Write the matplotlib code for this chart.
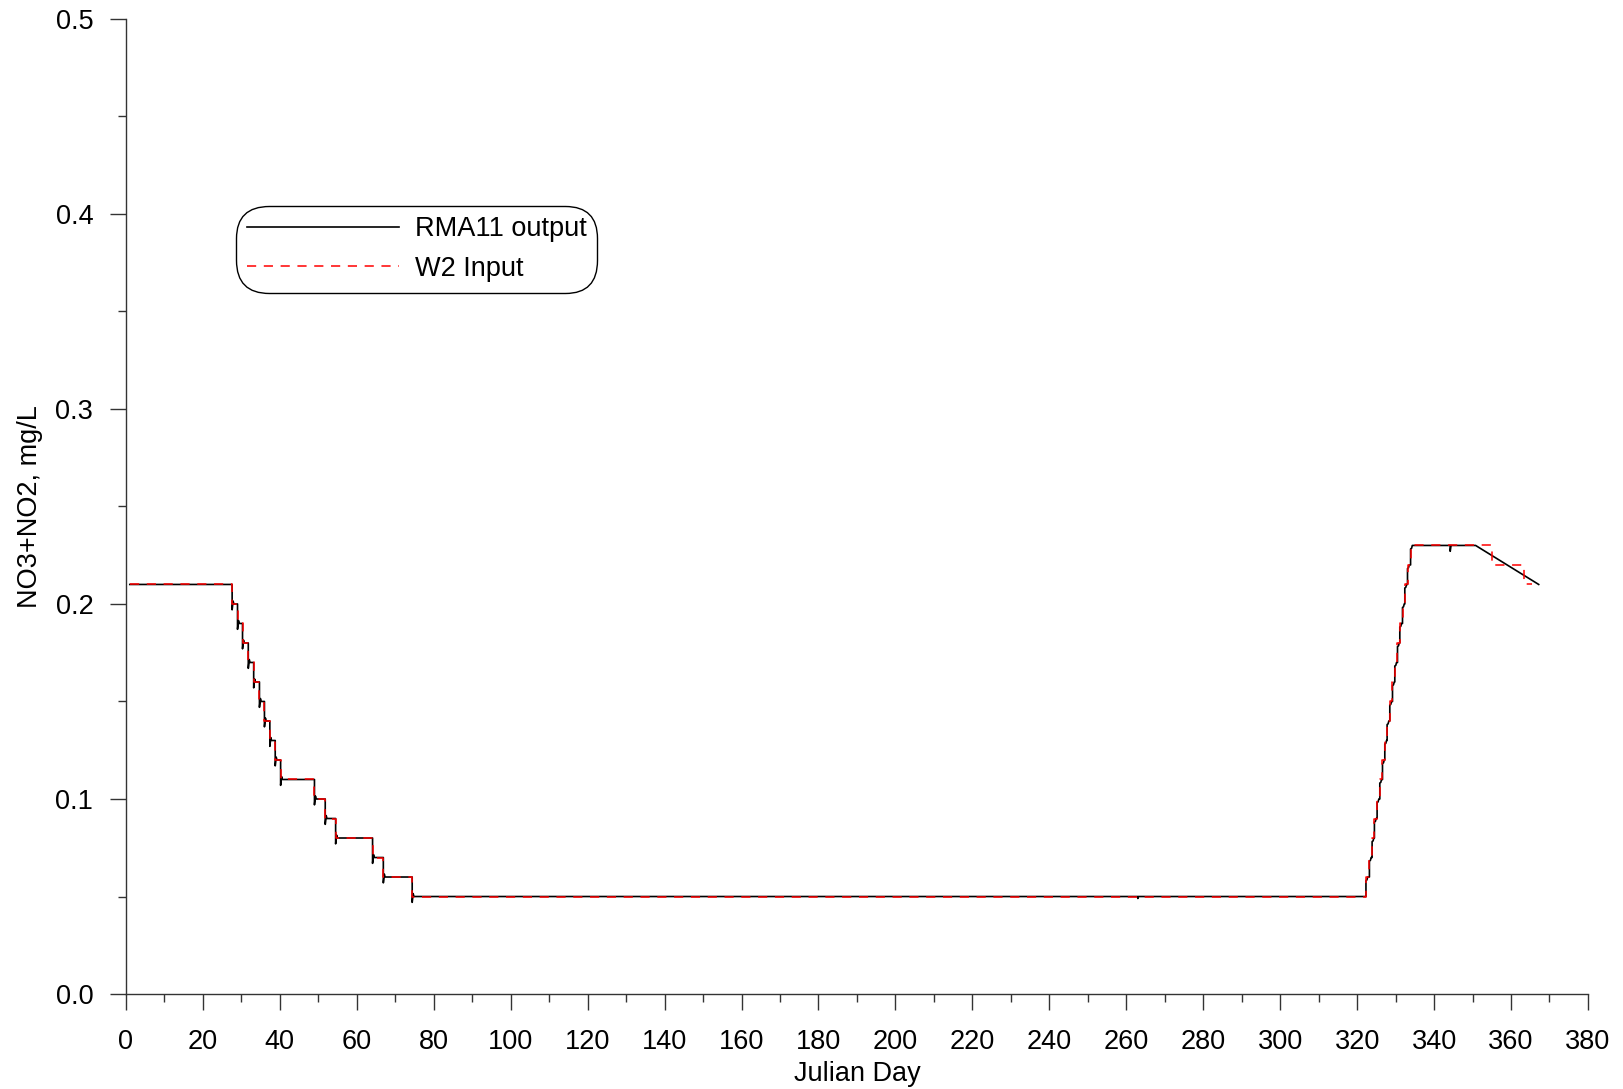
import matplotlib
matplotlib.use('Agg')
import matplotlib.pyplot as plt
import numpy as np

plt.rcParams['font.family'] = ['Liberation Sans', 'DejaVu Sans']

# W2 input: step start days and levels (steps-post)
W2_DAY = [1.0, 27.6, 29.0, 30.3, 31.8, 33.2, 34.7, 36.0, 37.4, 38.8, 40.2,
          49.0, 51.8, 54.5, 64.1, 66.9, 74.4,
          322.3, 323.2, 323.9, 324.5, 325.2, 325.9, 326.6, 327.2, 327.8,
          328.5, 329.2, 329.8, 330.5, 331.1, 331.8, 332.4, 333.1, 333.9,
          355.0, 363.3, 365.5]
W2_VAL = [0.21, 0.20, 0.19, 0.18, 0.17, 0.16, 0.15, 0.14, 0.13, 0.12, 0.11,
          0.10, 0.09, 0.08, 0.07, 0.06, 0.05,
          0.06, 0.07, 0.08, 0.09, 0.10, 0.11, 0.12, 0.13, 0.14,
          0.15, 0.16, 0.17, 0.18, 0.19, 0.20, 0.21, 0.22, 0.23,
          0.22, 0.21, 0.21]

# RMA11 output: follows the W2 steps up to 0.23 (with small overshoot at
# each change), a couple of small blips, then a linear decline
RMA_LAST_STEP = 34
RMA_DIP = 0.003
RMA_BLIP_DAY = [263.0, 344.2]
RMA_BLIP_VAL = [0.049, 0.227]
RMA_TAIL_DAY = [350.8, 367.2]
RMA_TAIL_VAL = [0.23, 0.21]


def rma_series():
    events = [(W2_DAY[i], 'step', W2_VAL[i]) for i in range(1, RMA_LAST_STEP + 1)]
    events += [(d, 'blip', v) for d, v in zip(RMA_BLIP_DAY, RMA_BLIP_VAL)]
    events.sort()
    xs, ys = [W2_DAY[0]], [W2_VAL[0]]
    cur = W2_VAL[0]
    for d, kind, v in events:
        if kind == 'step':
            over = v - RMA_DIP if v < cur else v - RMA_DIP * 0.6
            xs += [d, d, d + 0.25, d + 0.45]
            ys += [cur, over, v + (0.0015 if v < cur else -0.0015), v]
            cur = v
        else:
            xs += [d, d, d + 0.2]
            ys += [cur, v, cur]
    xs += RMA_TAIL_DAY
    ys += RMA_TAIL_VAL
    return xs, ys


FS = 19.5

fig = plt.figure(figsize=(16.23, 10.89), dpi=100)
ax = fig.add_axes([0.0776, 0.0872, 0.9008, 0.8955])

rx, ry = rma_series()
ax.plot(rx, ry, color='black', lw=1.2, label='RMA11 output', zorder=2)
ax.plot(W2_DAY, W2_VAL, color='red', lw=1.1, ls=(0, (6, 5)),
        drawstyle='steps-post', label='W2 Input', zorder=3)

ax.set_xlim(0, 380)
ax.set_ylim(0, 0.5)
ax.set_xticks(np.arange(0, 381, 20))
ax.set_xticks(np.arange(0, 381, 10), minor=True)
ax.set_yticks([0.0, 0.1, 0.2, 0.3, 0.4, 0.5])
ax.set_yticks([0.05, 0.15, 0.25, 0.35, 0.45], minor=True)
ax.yaxis.set_major_formatter(matplotlib.ticker.FormatStrFormatter('%.1f'))

for s in ['top', 'right']:
    ax.spines[s].set_visible(False)
for s in ['left', 'bottom']:
    ax.spines[s].set_color('#333333')
    ax.spines[s].set_linewidth(1.0)

ax.tick_params(which='major', length=11.5, width=1.0, color='#333333', labelsize=FS)
ax.tick_params(axis='x', which='major', pad=14)
ax.tick_params(axis='y', which='major', pad=12)
ax.tick_params(which='minor', length=5.8, width=1.0, color='#333333')

ax.set_xlabel('Julian Day', fontsize=FS, labelpad=4)
ax.set_ylabel('NO3+NO2, mg/L', fontsize=FS, labelpad=9)

leg = ax.legend(loc='upper left', bbox_to_anchor=(0.079, 0.803), borderaxespad=0,
                fontsize=FS, handlelength=5.6, handletextpad=0.6, labelspacing=0.5,
                fancybox=True, framealpha=1, edgecolor='black', borderpad=0.2)
leg.get_frame().set_linewidth(1.0)
leg.get_frame().set_boxstyle('round,pad=0.2,rounding_size=1.2')

fig.savefig('out.png', dpi=100)
